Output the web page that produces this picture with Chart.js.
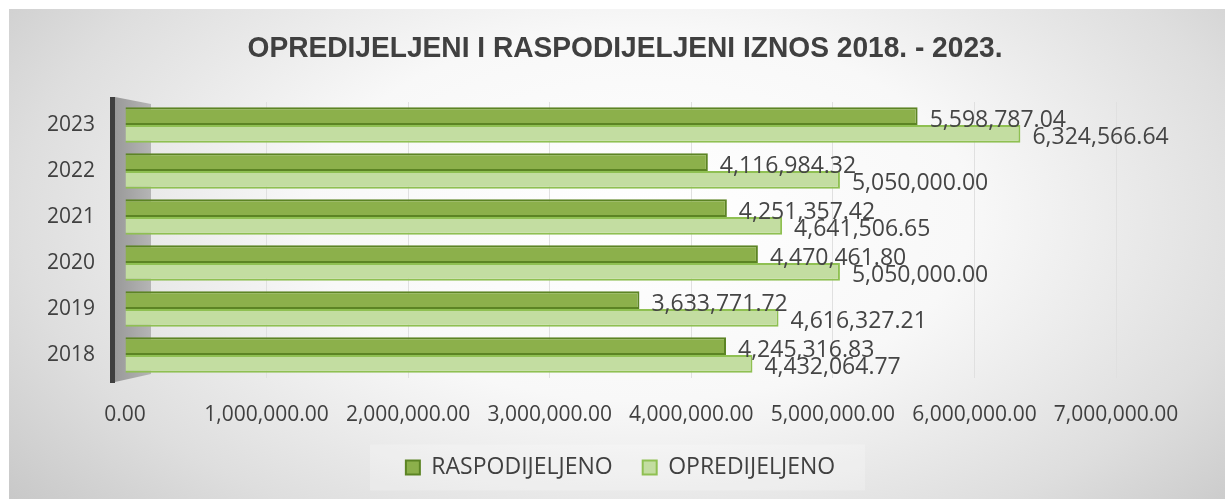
<!DOCTYPE html>
<html>
<head>
<meta charset="utf-8">
<script src="https://cdn.jsdelivr.net/npm/chart.js@4"></script>
<style>
    html, body { margin: 0; padding: 0; background: #ffffff; }
    #wrap {
        position: absolute;
        left: 9px;
        top: 9px;
        width: 1216px;
        height: 490px;
        background: radial-gradient(ellipse 68% 95% at 52% 42%, #ffffff 0%, #f8f8f8 40%, #dedede 75%, #c6c6c6 100%);
    }
</style>
</head>
<body>
<div id="wrap"><canvas id="chartIznos" width="1216" height="490"></canvas></div>
<script>
// ============================
// DADOS
// ============================
var godine = ['2018', '2019', '2020', '2021', '2022', '2023'];
var raspodijeljeno = [4245316.83, 3633771.72, 4470461.80, 4251357.42, 4116984.32, 5598787.04];
var opredijeljeno = [4432064.77, 4616327.21, 5050000.00, 4641506.65, 5050000.00, 6324566.64];
var xTicks = [0, 1000000, 2000000, 3000000, 4000000, 5000000, 6000000, 7000000];
var naslov = 'OPREDIJELJENI I RASPODIJELJENI IZNOS 2018. - 2023.';

var fonte = "'Open Sans', 'Noto Sans', sans-serif";

function formatar(v) {
    return Number(v).toLocaleString('en-US', { minimumFractionDigits: 2, maximumFractionDigits: 2 });
}

// título (fonte estreita, então comprime na horizontal)
var naslovPlugin = {
    id: 'naslov',
    afterDraw: function (chart) {
        var ctx = chart.ctx;
        ctx.save();
        ctx.font = "bold 30px 'Liberation Sans', Arial, sans-serif";
        ctx.fillStyle = '#404040';
        ctx.textBaseline = 'middle';
        ctx.textAlign = 'center';
        var w = ctx.measureText(naslov).width;
        var sx = 755 / w;
        ctx.translate(616, 40);
        ctx.scale(sx, 1);
        ctx.fillText(naslov, 0, 0);
        ctx.restore();
    }
};

// fundo claro da legenda
var legendaFundoPlugin = {
    id: 'legendaFundo',
    beforeDraw: function (chart) {
        var hb = chart.legend.legendHitBoxes;
        if (!hb || !hb.length) return;
        var ultimo = hb[hb.length - 1];
        var ctx = chart.ctx;
        var cy = hb[0].top + hb[0].height / 2;
        ctx.save();
        ctx.fillStyle = 'rgba(255,255,255,0.22)';
        ctx.fillRect(hb[0].left - 36, cy - 23, ultimo.left + ultimo.width + 30 - (hb[0].left - 36), 46);
        ctx.restore();
    }
};

// rótulos no fim das barras
var rotulosPlugin = {
    id: 'rotulos',
    afterDatasetsDraw: function (chart) {
        var ctx = chart.ctx;
        ctx.save();
        ctx.font = '23px ' + fonte;
        ctx.fillStyle = '#454545';
        ctx.textBaseline = 'middle';
        ctx.textAlign = 'left';
        chart.data.datasets.forEach(function (ds, i) {
            var meta = chart.getDatasetMeta(i);
            meta.data.forEach(function (bar, j) {
                ctx.fillText(formatar(ds.data[j]), bar.x + 12, bar.y + 4);
            });
        });
        ctx.restore();
    }
};

// parede lateral (efeito 3D)
var paredePlugin = {
    id: 'parede',
    beforeDatasetsDraw: function (chart) {
        var a = chart.chartArea;
        var ctx = chart.ctx;
        ctx.save();
        var g = ctx.createLinearGradient(a.left - 10, 0, a.left + 26, 0);
        g.addColorStop(0, '#999999');
        g.addColorStop(1, '#b5b5b5');
        ctx.fillStyle = g;
        ctx.beginPath();
        ctx.moveTo(a.left - 10, a.top - 5);
        ctx.lineTo(a.left + 26, a.top + 2);
        ctx.lineTo(a.left + 26, a.bottom - 4);
        ctx.lineTo(a.left - 10, a.bottom + 4);
        ctx.closePath();
        ctx.fill();
        ctx.fillStyle = '#3f3f3f';
        ctx.fillRect(a.left - 15, a.top - 5, 5, a.bottom - a.top + 10);
        ctx.restore();
    }
};

var ctxIznos = document.getElementById('chartIznos');

var graficoIznos = new Chart(ctxIznos, {
    type: 'bar',
    data: {
        labels: godine,
        datasets: [{
            label: 'RASPODIJELJENO',
            data: raspodijeljeno,
            backgroundColor: '#8cb04b',
            borderColor: '#5c8424',
            borderWidth: 2,
            barPercentage: 1.0,
            categoryPercentage: 0.77
        }, {
            label: 'OPREDIJELJENO',
            data: opredijeljeno,
            backgroundColor: '#c3dda1',
            borderColor: '#8fc052',
            borderWidth: 2,
            barPercentage: 1.0,
            categoryPercentage: 0.77
        }]
    },
    options: {
        indexAxis: 'y',
        responsive: false,
        animation: false,
        layout: { padding: { top: 93, right: 109, bottom: 10, left: 0 } },
        plugins: {
            title: { display: false },
            legend: {
                position: 'bottom',
                fullSize: false,
                labels: {
                    color: '#404040',
                    font: { family: fonte, size: 23 },
                    boxWidth: 14,
                    boxHeight: 14,
                    padding: 30
                }
            },
            tooltip: { enabled: false }
        },
        scales: {
            x: {
                min: 0,
                max: 7000000,
                afterBuildTicks: function (scale) {
                    scale.ticks = xTicks.map(function (v) { return { value: v }; });
                },
                afterFit: function (scale) { scale.height = 48; },
                ticks: {
                    color: '#404040',
                    font: { family: fonte, size: 21 },
                    maxRotation: 0,
                    autoSkip: false,
                    padding: 24,
                    callback: function (v) { return formatar(v); }
                },
                grid: { color: '#e0e0e0', drawTicks: false },
                border: { display: false }
            },
            y: {
                reverse: true,
                afterFit: function (scale) { scale.width = 116; },
                ticks: {
                    color: '#404040',
                    font: { family: fonte, size: 21 },
                    padding: 22
                },
                grid: { display: false },
                border: { display: false }
            }
        }
    },
    plugins: [legendaFundoPlugin, paredePlugin, rotulosPlugin, naslovPlugin]
});
</script>
</body>
</html>
